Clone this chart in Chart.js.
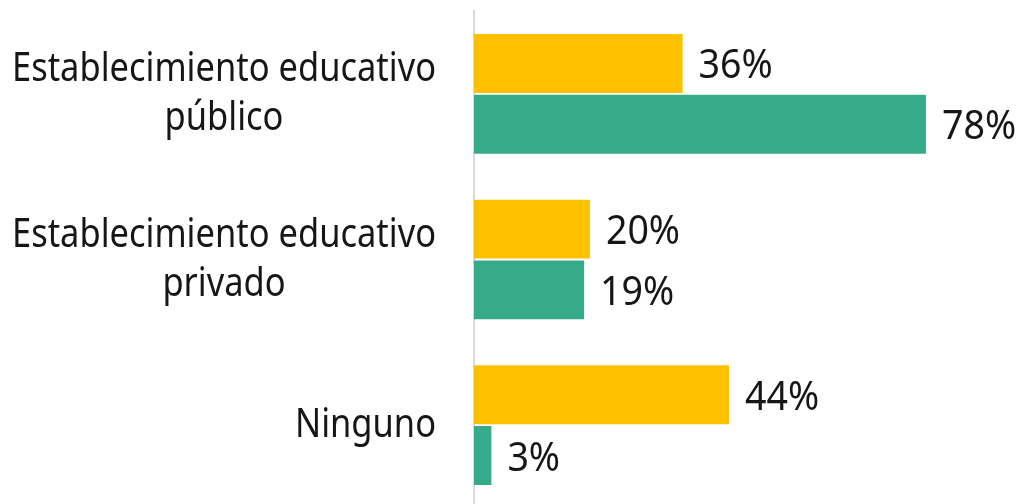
<!DOCTYPE html>
<html>
<head>
<meta charset="utf-8">
<script src="https://cdn.jsdelivr.net/npm/chart.js@4/dist/chart.umd.min.js"></script>
<style>
  html, body { margin: 0; padding: 0; background: #fff; overflow: hidden; }
  #wrap { width: 1021px; height: 508px; position: relative; }
</style>
</head>
<body>
<div id="wrap"><canvas id="chart"></canvas></div>
<script>
// Data
const categories = [
    ['Establecimiento educativo', 'público'],
    ['Establecimiento educativo', 'privado'],
    ['Ninguno']
];
const serieAmarilla = [36, 20, 44];
const serieVerde = [78, 19, 3];

const textColor = '#161616';
const labelFont = '40px "Noto Sans", sans-serif';
const targetWidth = 424; // width of the longest category line in the reference

// condensed look: squeeze the text horizontally
function squeeze(ctx) {
    ctx.save();
    ctx.font = labelFont;
    const w = ctx.measureText('Establecimiento educativo').width;
    ctx.restore();
    return targetWidth / w;
}

function drawText(ctx, text, x, y, sx) {
    ctx.save();
    ctx.translate(x, y);
    ctx.scale(sx, 1);
    ctx.fillText(text, 0, 0);
    ctx.restore();
}

// Value labels at the end of each bar
const valueLabels = {
    id: 'valueLabels',
    afterDatasetsDraw(chart) {
        const ctx = chart.ctx;
        const sx = squeeze(ctx) * 1.09;
        ctx.save();
        ctx.font = labelFont;
        ctx.fillStyle = textColor;
        ctx.textAlign = 'left';
        ctx.textBaseline = 'alphabetic';
        chart.data.datasets.forEach((ds, di) => {
            chart.getDatasetMeta(di).data.forEach((bar, i) => {
                drawText(ctx, ds.data[i] + '%', bar.x + 16, bar.y + 15, sx);
            });
        });
        ctx.restore();
    }
};

// Category labels: block right-aligned, lines centred inside the block
const categoryLabels = {
    id: 'categoryLabels',
    afterDraw(chart) {
        const ctx = chart.ctx;
        const sx = squeeze(ctx);
        const yScale = chart.scales.y;
        const right = chart.chartArea.left - 38;
        const lineHeight = 49;
        ctx.save();
        ctx.font = labelFont;
        ctx.fillStyle = textColor;
        ctx.textAlign = 'center';
        ctx.textBaseline = 'alphabetic';
        categories.forEach((lines, i) => {
            const y = yScale.getPixelForValue(i);
            const blockW = sx * Math.max(...lines.map(l => ctx.measureText(l).width));
            const cx = right - blockW / 2;
            const top = y - (lines.length - 1) * lineHeight / 2;
            lines.forEach((line, k) => {
                drawText(ctx, line, cx, top + k * lineHeight + 12, sx);
            });
        });
        ctx.restore();
    }
};

new Chart(document.getElementById('chart').getContext('2d'), {
    type: 'bar',
    data: {
        labels: categories,
        datasets: [{
            data: serieAmarilla,
            backgroundColor: '#FFC000',
            categoryPercentage: 0.733,
            barPercentage: 0.97
        }, {
            data: serieVerde,
            backgroundColor: '#36AB8B',
            categoryPercentage: 0.733,
            barPercentage: 0.97
        }]
    },
    options: {
        indexAxis: 'y',
        responsive: true,
        maintainAspectRatio: false,
        animation: false,
        layout: { padding: { top: 11, right: 25.5, bottom: 0, left: 0 } },
        plugins: {
            legend: { display: false },
            tooltip: { enabled: false }
        },
        scales: {
            x: { display: false, min: 0, max: 90 },
            y: {
                display: true,
                ticks: { display: false },
                grid: { display: false },
                border: { display: true, color: '#D9D9D9', width: 2 },
                afterFit(scale) { scale.width = 474; }
            }
        }
    },
    plugins: [valueLabels, categoryLabels]
});
</script>
</body>
</html>
